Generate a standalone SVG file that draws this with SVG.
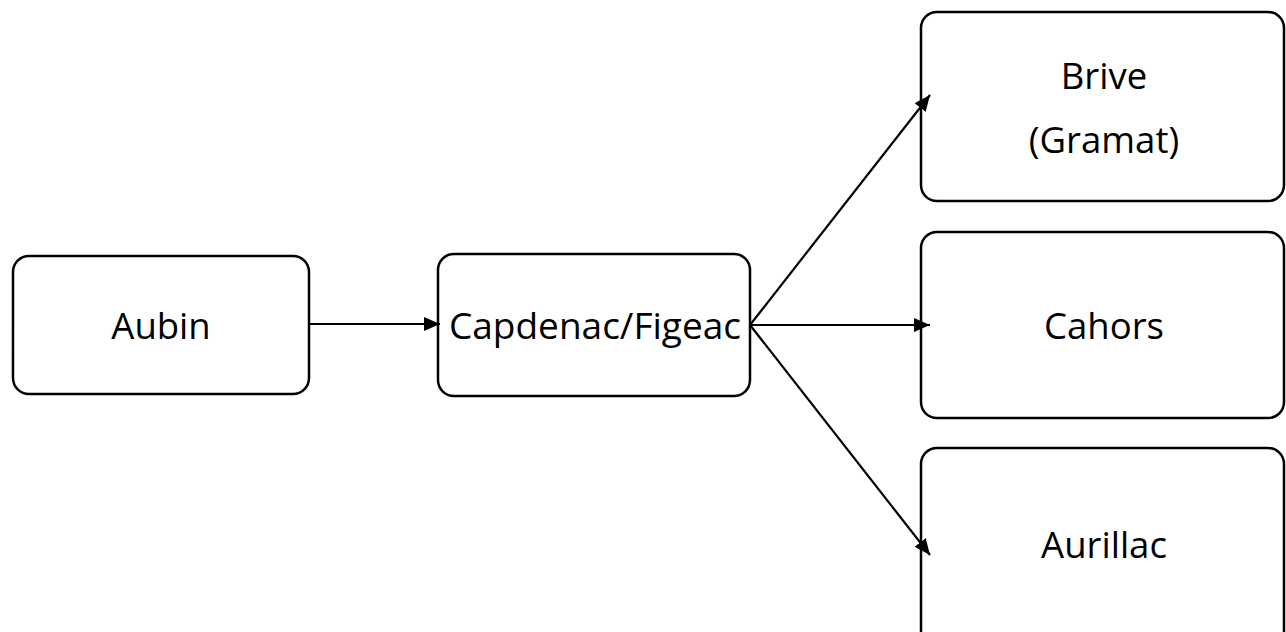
<svg xmlns="http://www.w3.org/2000/svg" width="1286" height="632" viewBox="0 0 1286 632">
<defs>
<marker id="ah" viewBox="0 0 16 14" refX="16" refY="7" markerWidth="16" markerHeight="14" markerUnits="userSpaceOnUse" orient="auto"><path d="M0,0 L16,7 L0,14 z" fill="#000"/></marker>
<style>
.box{fill:#fff;stroke:#000;stroke-width:2.5}
.t{font-family:"Open Sans","Noto Sans",sans-serif;font-size:36.5px;fill:#000;text-anchor:middle}
.c{stroke:#000;stroke-width:2.2;fill:none;marker-end:url(#ah)}
</style>
</defs>
<rect width="1286" height="632" fill="#fff"/>
<g id="aubin"><rect class="box" x="13" y="256" width="296" height="138" rx="16"/><text class="t" x="161" y="339">Aubin</text></g>
<g id="capdenac"><rect class="box" x="438" y="254" width="312" height="142" rx="16"/><text class="t" x="595" y="339" textLength="292" lengthAdjust="spacingAndGlyphs">Capdenac/Figeac</text></g>
<g id="brive"><rect class="box" x="921" y="12" width="363" height="189" rx="16"/><text class="t" x="1104" y="89">Brive</text><text class="t" x="1104" y="153">(Gramat)</text></g>
<g id="cahors"><rect class="box" x="921" y="232" width="363" height="186" rx="16"/><text class="t" x="1104" y="339">Cahors</text></g>
<g id="aurillac"><rect class="box" x="921" y="448" width="363" height="200" rx="16"/><text class="t" x="1104" y="558">Aurillac</text></g>
<g id="connectors">
<line class="c" x1="310" y1="324" x2="440" y2="324"/>
<line class="c" x1="750" y1="325" x2="930" y2="95"/>
<line class="c" x1="750" y1="325" x2="930" y2="325"/>
<line class="c" x1="750" y1="325" x2="930" y2="555"/>
</g>
</svg>
